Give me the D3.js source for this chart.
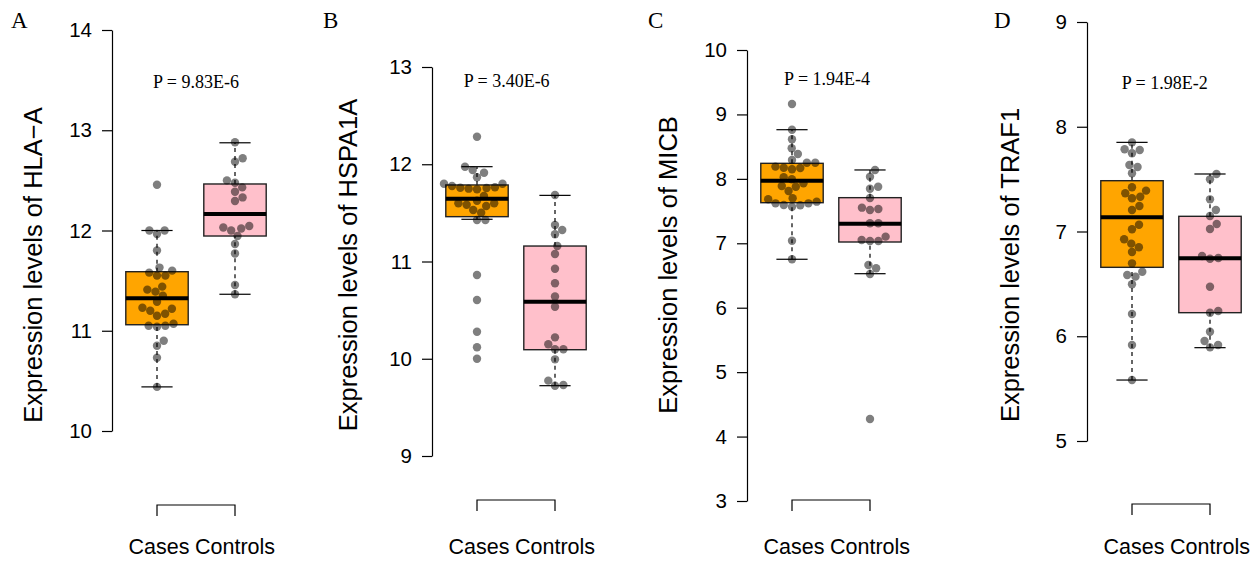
<!DOCTYPE html>
<html>
<head>
<meta charset="utf-8">
<script src="https://cdn.jsdelivr.net/npm/d3@7"></script>
<style>
  body { margin: 0; background: #fff; }
  text { fill: #000; }
</style>
</head>
<body>
<svg id="chart" width="1258" height="561"></svg>
<script>
// ---- data ----
const GROUPS = ["Cases", "Controls"];
const PANEL_LETTERS = ["A", "B", "C", "D"];
const GENES = ["HLA\u2212A", "HSPA1A", "MICB", "TRAF1"];
const P_LABELS = ["P = 9.83E-6", "P = 3.40E-6", "P = 1.94E-4", "P = 1.98E-2"];
const Y_DOMAINS = [[10, 14], [9, 13], [3, 10], [5, 9]];
const Y_TICKS = [[10, 11, 12, 13, 14], [9, 10, 11, 12, 13], [3, 4, 5, 6, 7, 8, 9, 10], [5, 6, 7, 8, 9]];

const casesA = [12.457, 12.0, 12.0, 11.965, 11.80, 11.63, 11.58, 11.55, 11.55, 11.60, 11.41, 11.44, 11.39, 11.35,
    11.29, 11.23, 11.20, 11.15, 11.17, 11.22, 11.05, 11.04, 11.05, 11.07, 10.85, 10.90, 10.73, 10.44];
const controlsA = [12.88, 12.72, 12.686, 12.50, 12.477, 12.43, 12.387, 12.33, 12.294, 12.03, 12.0, 12.02, 12.045,
    11.945, 11.865, 11.77, 11.456, 11.364];
const casesB = [12.283, 11.975, 11.94, 11.913, 11.866, 11.80, 11.776, 11.759, 11.749, 11.742, 11.756, 11.763, 11.80,
    11.674, 11.625, 11.598, 11.584, 11.598, 11.571, 11.53, 11.502, 11.427, 11.427, 10.861, 10.604, 10.278, 10.118, 10.0];
const controlsB = [11.684, 11.375, 11.324, 11.28, 11.16, 11.077, 10.926, 10.776, 10.64, 10.535, 10.22, 10.149, 10.097,
    10.097, 9.994, 9.775, 9.723, 9.73];
const casesC = [9.162, 8.763, 8.614, 8.474, 8.386, 8.293, 8.25, 8.25, 8.19, 8.173, 8.148, 8.169, 8.024, 7.993, 7.931,
    7.889, 7.878, 7.812, 7.698, 7.683, 7.646, 7.62, 7.594, 7.568, 7.59, 7.62, 7.04, 6.752];
const controlsC = [8.138, 8.034, 7.847, 7.878, 7.703, 7.553, 7.517, 7.532, 7.31, 7.31, 7.051, 7.036, 7.036, 7.103,
    6.663, 6.612, 6.523, 4.273];
const casesD = [7.851, 7.785, 7.747, 7.778, 7.635, 7.616, 7.556, 7.422, 7.365, 7.39, 7.317, 7.332, 7.243, 7.205,
    7.065, 7.021, 6.926, 6.884, 6.85, 6.804, 6.696, 6.616, 6.585, 6.569, 6.496, 6.212, 5.916, 5.582];
const controlsD = [7.549, 7.498, 7.307, 7.205, 7.148, 7.072, 7.024, 6.766, 6.74, 6.747, 6.473, 6.225, 6.241, 6.043,
    5.955, 5.894, 5.916];

// box stats: [lower whisker, q1, median, q3, upper whisker]
const statsCasesA = [10.44, 11.06, 11.324, 11.589, 12.0];
const statsControlsA = [11.364, 11.945, 12.165, 12.464, 12.875];
const statsCasesB = [11.434, 11.461, 11.646, 11.787, 11.975];
const statsControlsB = [9.723, 10.093, 10.587, 11.159, 11.68];
const statsCasesC = [6.752, 7.63, 7.972, 8.241, 8.763];
const statsControlsC = [6.528, 7.02, 7.304, 7.708, 8.138];
const statsCasesD = [5.582, 6.658, 7.136, 7.485, 7.851];
const statsControlsD = [5.891, 6.225, 6.744, 7.145, 7.549];

const POINTS = [[casesA, controlsA], [casesB, controlsB], [casesC, controlsC], [casesD, controlsD]];
const STATS = [[statsCasesA, statsControlsA], [statsCasesB, statsControlsB],
    [statsCasesC, statsControlsC], [statsCasesD, statsControlsD]];

// ---- layout ----
const AXIS_X = [112, 432, 747, 1087];
const Y_RANGES = [[431, 30], [456, 67], [501, 50], [441, 22]];
const BRACKET_Y = [505, 500, 500, 504];
const TITLE_OFFSET = [70, 75, 70, 68];
const P_AT = [[1.5, 13.42], [1.38, 12.79], [1.45, 9.457], [1.42, 8.36]];
const FILLS = ["#FFA500", "#FFC0CB"];
const DOT_D = 8.4;
const SANS = "'Liberation Sans', Arial, Helvetica, sans-serif";
const SERIF = "'Liberation Serif', 'Times New Roman', serif";

const svg = d3.select("#chart");

// simple swarm: lowest values first, each point as close to the centre as it can go
function swarm(ys, d) {
    let order = ys.map((y, i) => i).sort((a, b) => ys[b] - ys[a]);
    let placed = [];
    let xs = new Array(ys.length);
    order.forEach(function(i) {
        let y = ys[i];
        let cands = [0];
        placed.forEach(function(p) {
            let dy = Math.abs(p.y - y);
            if (dy < d) {
                let dx = Math.sqrt(d * d - dy * dy);
                cands.push(p.x + dx, p.x - dx);
            }
        });
        let ok = cands.filter(function(c) {
            return placed.every(p => (p.x - c) * (p.x - c) + (p.y - y) * (p.y - y) >= d * d - 0.01);
        });
        ok.sort((a, b) => Math.abs(a) - Math.abs(b));
        xs[i] = ok[0];
        placed.push({x: ok[0], y: y});
    });
    return xs;
}

for (let k = 0; k < 4; k++) {
    let ax = AXIS_X[k];
    let y = d3.scaleLinear().domain(Y_DOMAINS[k]).range(Y_RANGES[k]);
    let x = d3.scaleLinear().domain([1, 2]).range([ax + 45, ax + 123]);
    let unit = x(2) - x(1);
    let g = svg.append("g");

    // y axis
    let yAxis = d3.axisLeft(y).tickValues(Y_TICKS[k]).tickFormat(d3.format("d"))
        .tickSize(10).tickPadding(10).tickSizeOuter(0);
    let axisG = g.append("g").attr("transform", "translate(" + ax + ",0)").call(yAxis);
    axisG.select(".domain").attr("stroke", "#000").attr("stroke-width", 1.2);
    axisG.selectAll(".tick line").attr("stroke", "#000").attr("stroke-width", 1.2);
    axisG.selectAll(".tick text").attr("font-family", SANS).attr("font-size", "20.5px").attr("fill", "#000");

    // y title
    g.append("text")
        .attr("transform", "translate(" + (ax - TITLE_OFFSET[k]) + ",265) rotate(-90)")
        .attr("text-anchor", "middle")
        .attr("font-family", SANS)
        .attr("font-size", "25.5px")
        .text("Expression levels of " + GENES[k]);

    // x bracket
    let by = BRACKET_Y[k];
    g.append("path")
        .attr("d", "M" + x(1) + "," + (by + 11) + "V" + by + "H" + x(2) + "V" + (by + 11))
        .attr("fill", "none").attr("stroke", "#000").attr("stroke-width", 1.2);
    GROUPS.forEach(function(name, i) {
        g.append("text")
            .attr("x", x(i + 1) + (i === 0 ? 2 : 0))
            .attr("y", 554)
            .attr("text-anchor", "middle")
            .attr("font-family", SANS)
            .attr("font-size", "21.5px")
            .text(name);
    });

    // boxes
    GROUPS.forEach(function(name, i) {
        let s = STATS[k][i];
        let cx = x(i + 1);
        let bw = unit * 0.8;
        let cw = bw / 2;
        g.append("line").attr("x1", cx).attr("x2", cx).attr("y1", y(s[0])).attr("y2", y(s[1]))
            .attr("stroke", "#000").attr("stroke-width", 1.2).attr("stroke-dasharray", "4,4");
        g.append("line").attr("x1", cx).attr("x2", cx).attr("y1", y(s[3])).attr("y2", y(s[4]))
            .attr("stroke", "#000").attr("stroke-width", 1.2).attr("stroke-dasharray", "4,4");
        [s[0], s[4]].forEach(function(v) {
            g.append("line").attr("x1", cx - cw / 2).attr("x2", cx + cw / 2).attr("y1", y(v)).attr("y2", y(v))
                .attr("stroke", "#000").attr("stroke-width", 1.2);
        });
        g.append("rect")
            .attr("x", cx - bw / 2).attr("width", bw)
            .attr("y", y(s[3])).attr("height", y(s[1]) - y(s[3]))
            .attr("fill", FILLS[i]).attr("stroke", "#222").attr("stroke-width", 1.4);
        g.append("line").attr("x1", cx - bw / 2).attr("x2", cx + bw / 2).attr("y1", y(s[2])).attr("y2", y(s[2]))
            .attr("stroke", "#000").attr("stroke-width", 4);
    });

    // points
    GROUPS.forEach(function(name, i) {
        let vals = POINTS[k][i];
        let ys = vals.map(v => y(v));
        let offs = swarm(ys, DOT_D);
        g.append("g").selectAll("circle")
            .data(vals)
            .join("circle")
            .attr("cx", (d, j) => x(i + 1) + offs[j])
            .attr("cy", d => y(d))
            .attr("r", DOT_D / 2)
            .attr("fill", "#000")
            .attr("fill-opacity", 0.5);
    });

    // p value
    g.append("text")
        .attr("x", x(P_AT[k][0]))
        .attr("y", y(P_AT[k][1]))
        .attr("text-anchor", "middle")
        .attr("font-family", SERIF)
        .attr("font-size", "18px")
        .text(P_LABELS[k]);
}

const LETTER_X = [11, 323, 648, 994];
PANEL_LETTERS.forEach(function(l, k) {
    svg.append("text")
        .attr("x", LETTER_X[k])
        .attr("y", 28)
        .attr("font-family", SERIF)
        .attr("font-size", "23px")
        .text(l);
});
</script>
</body>
</html>
